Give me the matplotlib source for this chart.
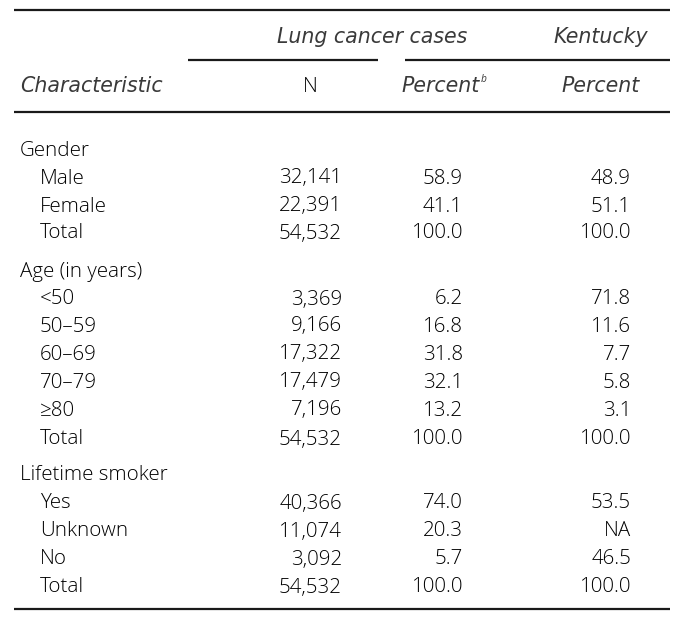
import matplotlib
matplotlib.use("Agg")
import matplotlib.pyplot as plt

plt.rcParams['font.family'] = ['Open Sans', 'DejaVu Sans']

# ---- data ----
groups = ["Gender", "Age (in years)", "Lifetime smoker"]
gender_labels = ["Male", "Female", "Total"]
gender_n = ["32,141", "22,391", "54,532"]
gender_pct = ["58.9", "41.1", "100.0"]
gender_ky = ["48.9", "51.1", "100.0"]

age_labels = ["<50", "50–59", "60–69", "70–79", "≥80", "Total"]
age_n = ["3,369", "9,166", "17,322", "17,479", "7,196", "54,532"]
age_pct = ["6.2", "16.8", "31.8", "32.1", "13.2", "100.0"]
age_ky = ["71.8", "11.6", "7.7", "5.8", "3.1", "100.0"]

smoke_labels = ["Yes", "Unknown", "No", "Total"]
smoke_n = ["40,366", "11,074", "3,092", "54,532"]
smoke_pct = ["74.0", "20.3", "5.7", "100.0"]
smoke_ky = ["53.5", "NA", "46.5", "100.0"]

sections = [
    (groups[0], gender_labels, gender_n, gender_pct, gender_ky),
    (groups[1], age_labels, age_n, age_pct, age_ky),
    (groups[2], smoke_labels, smoke_n, smoke_pct, smoke_ky),
]

# ---- layout ----
W, H = 684, 622
fig = plt.figure(figsize=(W / 100, H / 100), dpi=100)
ax = fig.add_axes([0, 0, 1, 1])
ax.set_xlim(0, W)
ax.set_ylim(H, 0)
ax.axis('off')

fs = 14.8
fsi = 14.8
col = '#1a1a1a'
body = dict(fontsize=fs, fontweight='light', color='#000000', va='center')
ital = dict(style='italic', family=['DejaVu Sans'], fontsize=fsi, color='#3a3a3a', va='center')
lw = 1.6
dy = 1.5

# rules
ax.plot([14, 670], [10, 10], color=col, lw=lw, solid_capstyle='butt')
ax.plot([188, 378], [60, 60], color=col, lw=lw, solid_capstyle='butt')
ax.plot([405, 670], [60, 60], color=col, lw=lw, solid_capstyle='butt')
ax.plot([14, 670], [112, 112], color=col, lw=lw, solid_capstyle='butt')
ax.plot([14, 670], [609, 609], color=col, lw=lw, solid_capstyle='butt')

# header
ax.text(372, 37, "Lung cancer cases", ha='center', **ital)
ax.text(601, 37, "Kentucky", ha='center', **ital)
ax.text(20, 86, "Characteristic", ha='left', **ital)
ax.text(310, 86 + dy, "N", ha='center', **body)
ax.text(480, 86, "Percent", ha='right', **ital)
ax.text(481, 80, "b", style='italic', fontsize=fs * 0.5, ha='left', va='center', color='#3a3a3a')
ax.text(601, 86, "Percent", ha='center', **ital)

xN, xP, xK = 342, 463, 631
group_y = [149, 270, 474]
row_y = [[177, 205, 232],
         [298, 325, 353, 381, 409, 438],
         [502, 530, 558, 586]]

for (g, labels, ns, ps, ks), gy, ys in zip(sections, group_y, row_y):
    ax.text(20, gy + dy, g, ha='left', **body)
    for lab, n, p, k, y in zip(labels, ns, ps, ks, ys):
        ax.text(40, y + dy, lab, ha='left', **body)
        ax.text(xN, y + dy, n, ha='right', **body)
        ax.text(xP, y + dy, p, ha='right', **body)
        ax.text(xK, y + dy, k, ha='right', **body)

fig.savefig("out.png", dpi=100)
